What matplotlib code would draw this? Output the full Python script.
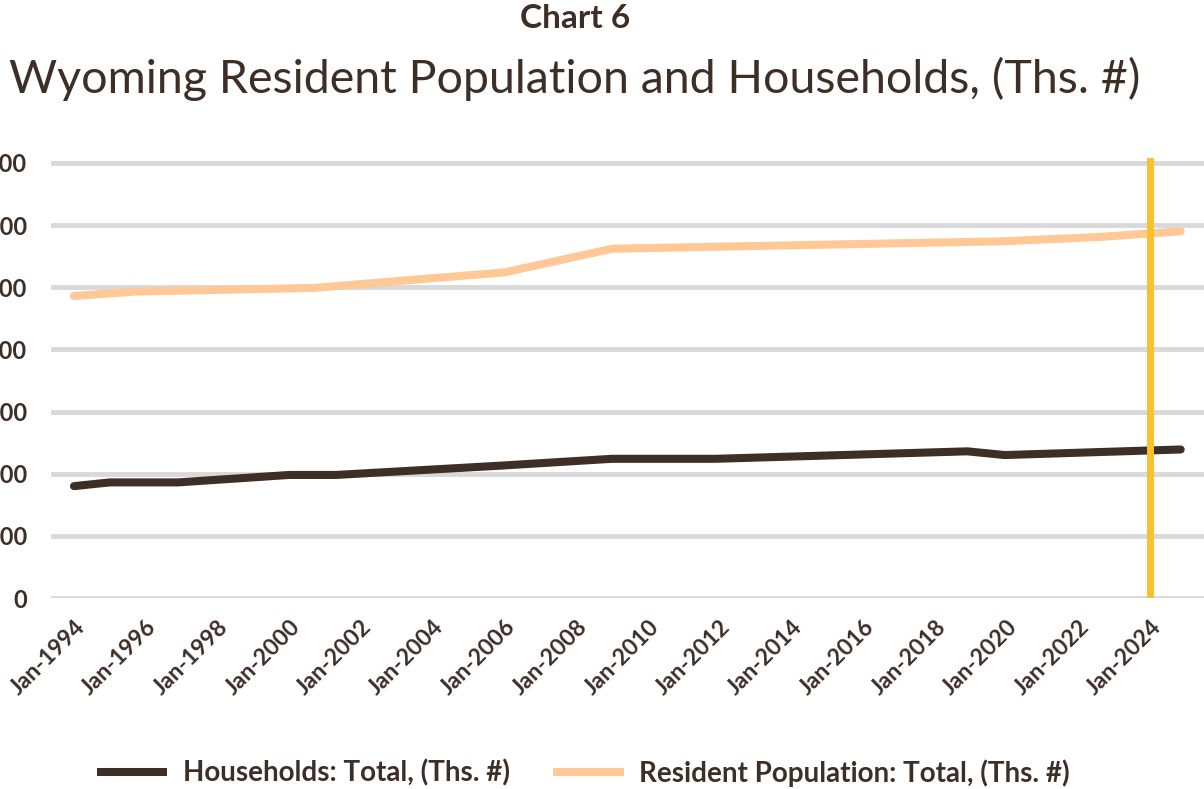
import matplotlib
matplotlib.use("Agg")
import matplotlib.pyplot as plt

# Data (fractional years -> thousands)
hh_years = [1994.0, 1995.0, 1996.9, 2000.0, 2001.3, 2005.9, 2009.0, 2011.9, 2018.9, 2019.95, 2024.85]
hh_values = [180, 186, 186, 198, 198, 213, 224, 224, 236, 230, 239]
pop_years = [1994.0, 1995.7, 2000.7, 2006.0, 2009.0, 2019.9, 2022.6, 2024.85]
pop_values = [486, 493, 499, 524, 562, 574, 581, 590]
tick_years = list(range(1994, 2025, 2))
tick_labels = [f"Jan-{y}" for y in tick_years]
y_ticks = [0, 100, 200, 300, 400, 500, 600, 700]
marker_year = 2024

TXT = "#3d2e26"
HH = "#3d2e26"
POP = "#ffc896"
YEL = "#fbc02d"
FONT = "Lato"

W, H = 1204, 789
fig = plt.figure(figsize=(W / 100, H / 100), dpi=100)
ax = fig.add_axes([51 / W, (H - 598) / H, (W - 51) / W, (598 - 158) / H])
ax.set_xlim(1993.36, 2025.5)
ax.set_ylim(0, 708)

ax.plot(hh_years, hh_values, color=HH, lw=5.8, solid_capstyle="round", solid_joinstyle="round", zorder=3,
        label="Households: Total, (Ths. #)")
ax.plot(pop_years, pop_values, color=POP, lw=5.8, solid_capstyle="round", solid_joinstyle="round", zorder=3,
        label="Resident Population: Total, (Ths. #)")
ax.axvline(marker_year, color=YEL, lw=5, zorder=4)

ax.set_yticks(y_ticks)
ax.set_yticklabels([str(v) for v in y_ticks], fontsize=17, color=TXT, family=FONT, weight="bold")
ax.set_xticks(tick_years)
ax.set_xticklabels(tick_labels, rotation=45, ha="right", rotation_mode="anchor",
                   fontsize=16.5, color=TXT, family=FONT, weight="bold")
ax.tick_params(axis="y", length=0, pad=17)
ax.tick_params(axis="x", length=0, pad=13)
ax.yaxis.grid(True, color="#d9d9d9", lw=3.5)
ax.set_axisbelow(True)
for s in ax.spines.values():
    s.set_visible(False)

fig.text(575 / W, 1 - 18 / H, "Chart 6", ha="center", va="center", fontsize=24, weight="bold",
         color=TXT, family=FONT)
fig.text(575 / W, 1 - 79 / H, "Wyoming Resident Population and Households, (Ths. #)", ha="center",
         va="center", fontsize=33.5, color=TXT, family=FONT)

leg = fig.legend(loc="center", bbox_to_anchor=(583 / W, 1 - 773 / H), ncol=2, frameon=False,
                 handlelength=2.55, columnspacing=1.55, handletextpad=0.55,
                 prop={"family": FONT, "weight": "bold", "size": 20})
for t in leg.get_texts():
    t.set_color(TXT)
for h in leg.get_lines():
    h.set_solid_capstyle("butt")

fig.savefig("out.png", dpi=100)
